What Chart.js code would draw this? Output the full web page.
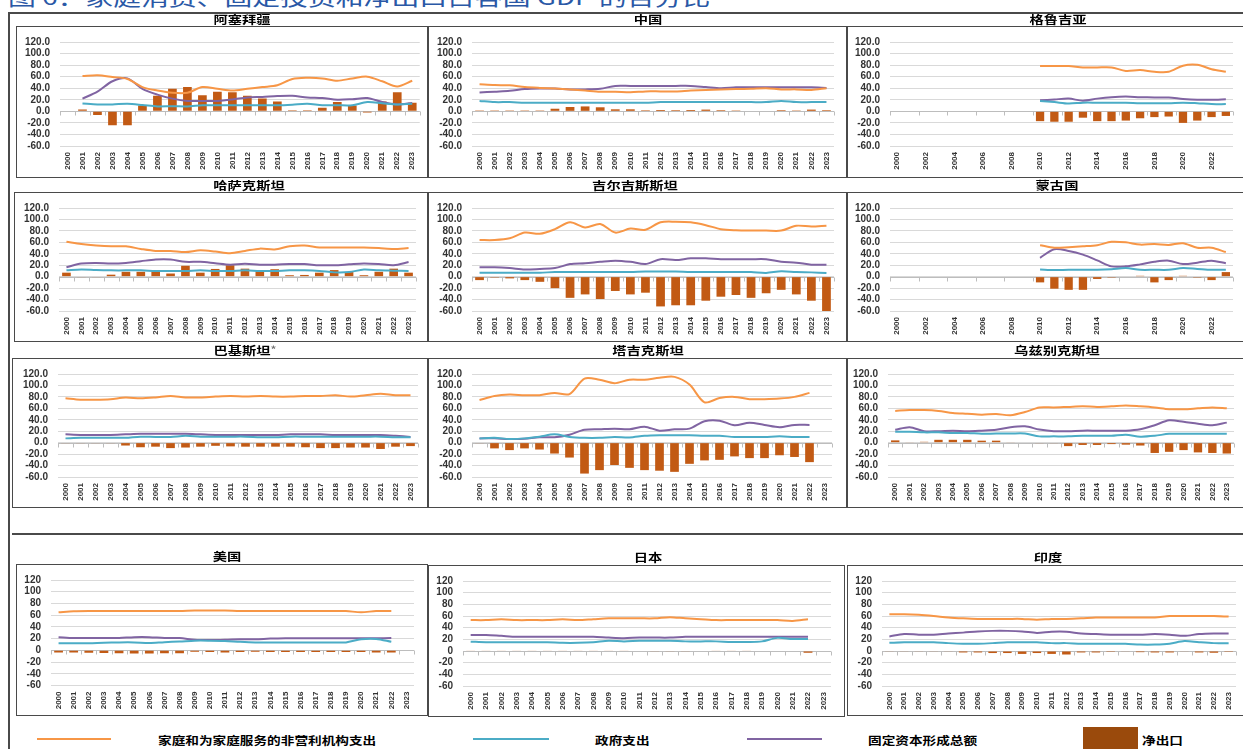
<!DOCTYPE html>
<html>
<head>
<meta charset="utf-8">
<script src="https://cdn.jsdelivr.net/npm/chart.js@4.4.0/dist/chart.umd.min.js"></script>
<style>
  body { margin: 0; background: #fff; }
  #page { position: relative; width: 1243px; height: 749px; overflow: hidden; background: #fff; font-family: "Noto Sans CJK SC", sans-serif; }
  .panel { position: absolute; }
  .panel canvas { position: absolute; left: 0; top: 0; }
  .frame { position: absolute; left: 0; top: 0; right: 0; bottom: 0; border: 1.5px solid #4a4a4a; box-sizing: border-box; }
  .ttl { position: absolute; font-weight: bold; font-size: 11px; line-height: 12px; white-space: nowrap; color: #000;
         transform: translate(-50%, -50%) scaleX(1.3); }
  .ast { color: #777; font-size: 9px; vertical-align: top; }
  .line { position: absolute; background: #4a4a4a; }
  .lg { position: absolute; height: 2px; }
  .lgt { position: absolute; font-weight: bold; font-size: 11px; line-height: 12px; white-space: nowrap; color: #000;
         transform-origin: 0 50%; transform: translateY(-50%) scaleX(1.24); }
  #head { position: absolute; left: 8px; top: -16px; font-size: 21px; line-height: 24px; color: #2a58a6; white-space: nowrap;
          transform-origin: 0 0; transform: scaleX(1.325); }
</style>
</head>
<body>
<div id="page">
  <div id="head">图 6：家庭消费、固定投资和净出口占各国 GDP 的百分比</div>
  <div class="line" style="left:8px;top:12px;width:1.5px;height:737px"></div>
  <div class="line" style="left:8px;top:12px;width:1235px;height:1.5px"></div>
  <div class="line" style="left:12px;top:533px;width:1231px;height:2px"></div>

  <div class="lg" style="left:37px;top:738px;width:74px;background:#f79646"></div>
  <div class="lgt" style="left:158px;top:740px">家庭和为家庭服务的非营利机构支出</div>
  <div class="lg" style="left:473px;top:738px;width:76px;background:#4bacc6"></div>
  <div class="lgt" style="left:595px;top:740px">政府支出</div>
  <div class="lg" style="left:747px;top:738px;width:75px;background:#8064a2"></div>
  <div class="lgt" style="left:868px;top:740px">固定资本形成总额</div>
  <div style="position:absolute;left:1083px;top:727px;width:55px;height:22px;background:#9a4a0c"></div>
  <div class="lgt" style="left:1142px;top:740px">净出口</div>
</div>
<script>
const years = ['2000','2001','2002','2003','2004','2005','2006','2007','2008','2009','2010','2011',
               '2012','2013','2014','2015','2016','2017','2018','2019','2020','2021','2022','2023'];
const yTicks = [-60, -40, -20, 0, 20, 40, 60, 80, 100, 120];

// 阿塞拜疆
const azeHH   = [null,61,62.5,59.5,56,42,36,32,32,42,39,36,39,42,45,56,58,57,53,57,60,52,43,53];
const azeGov  = [null,13.5,12,12,13,11,8.5,9,8.5,10.5,10.5,10.5,10.5,10.5,10.5,11.5,13,10.5,10.5,10.5,16,14,12,13];
const azeGfcf = [null,22,34,52,57,39,29,22,18,18,18,20.5,24,25,26.5,27,24,23,20,21,23,16,12,14.5];
const azeNx   = [null,3,-6.5,-24,-24,10,27,39,42,28,34,33,27,22,17,2,2,6,16,10,-2,17,33,15];

// 中国
const chnHH   = [47,45.5,45,42,40.5,39.5,38,36,34,34,33,34.5,34.5,34.5,36,37,38,38.5,39,40,38,38,37,40];
const chnGov  = [18,16,16,15,15,15,15,15,15,15,15,15,16,16,16,16,16,16,16,16,18,16,16,16];
const chnGfcf = [32.5,34,35.5,38.5,39.5,39.5,38,38,39,44,44,44,44,44,44,42,40,41.5,41.5,41.5,41.5,41.5,41.5,40.5];
const chnNx   = [1.5,1.5,1.5,1.5,1.5,4.5,7.5,8.5,7,3.5,3.5,1.8,2.3,2,2.3,3,2,1.5,0,0,2,1.5,3,2];

// 格鲁吉亚
const geoHH   = [null,null,null,null,null,null,null,null,null,null,78.5,78.5,78.5,76,76,76,70,71.5,68.5,68.5,79,80.5,73,68.5];
const geoGov  = [null,null,null,null,null,null,null,null,null,null,18,16,13.5,15,15,15,15,14,14,14,15,14,12.5,12.5];
const geoGfcf = [null,null,null,null,null,null,null,null,null,null,19,20.5,22,18.5,22,24.5,25.5,24.5,24,24,21.5,20,20,21];
const geoNx   = [null,null,null,null,null,null,null,null,null,null,-17,-18,-18,-11,-17,-17,-16,-12,-10,-9,-20,-16,-10,-8];

// 哈萨克斯坦
const kazHH   = [61,57,54.5,53,53,48.5,45,45,43,46,44,41,45,49,47.5,53,54.5,51,51,51,51,50,48.5,50];
const kazGov  = [11,12.5,11.5,11,11,11,10,10,10,11,10,10,11,10,10,11,11,10,7.5,8,12.5,11,10.5,10];
const kazGfcf = [16.5,23,24,23,24,27,30,30,26,26,23.5,21,22.5,21,21,22,22,20,20,21.5,23,22,20,25.5];
const kazNx   = [7,-1,-1,3.5,8.5,8.5,9,5.5,19,7,13.5,20,14,9,13,2.5,3,7,11.5,8,2.5,8.5,14,7];

// 吉尔吉斯斯坦
const kgzHH   = [64,64,67,77,75,83,95,86,92,77,84,82,95,96,95,90,83,81,80.5,80.5,80.5,89,87.5,89];
const kgzGov  = [7,7,7,7,7,8,8,8,8,8,8,9,9,9,8,8,8,8,8,6.5,9.5,8,7.5,6.5];
const kgzGfcf = [16.5,16.5,15,12.5,13.5,15,22,23.5,26,28,26,22,30.5,29,32,32,30.5,30.5,30.5,30.5,26,24.5,21,21];
const kgzNx   = [-6,-1.5,-3,-6,-9,-20,-37,-31,-39,-25,-31,-28,-52,-50,-50,-42,-35,-32,-37,-29,-23,-31,-42,-62];

// 蒙古国
const mngHH   = [null,null,null,null,null,null,null,null,null,null,55,50.5,51.5,53,55,61,60,56,57,55.5,58.5,50.5,50.5,43];
const mngGov  = [null,null,null,null,null,null,null,null,null,null,12.5,11.5,12,12,12,13,15,12,12,12,15,13.5,12,12];
const mngGfcf = [null,null,null,null,null,null,null,null,null,null,33,48,45,38.5,28.5,18,18,21.5,26,28,22,24.5,28,23.5];
const mngNx   = [null,null,null,null,null,null,null,null,null,null,-10,-21,-23,-23,-4,-1.5,0,1.5,-10,-6,1.5,-1.5,-6,8];

// 巴基斯坦
const pakHH   = [77.5,75,75,76,79,77.5,79,81.5,79,79,80.5,81.5,80.5,81.5,80.5,80.5,81.5,81.5,83,80.5,83,85.5,83,83];
const pakGov  = [7.5,8.5,8.5,8.5,8.5,10.5,10,10,12,10.5,10.5,10.5,10.5,9.5,9.5,10.5,10.5,10.5,10.5,10.5,10.5,10.5,9.5,9.5];
const pakGfcf = [14.5,13.5,13.5,13.5,14.5,15.5,15.5,15.5,15.5,14.5,13.5,13.5,13.5,13.5,13.5,14.5,14.5,14.5,13.5,13.5,13.5,13.5,12,10];
const pakNx   = [-1,-1,-1,-1,-5,-8,-7,-9.5,-8.5,-7,-5.5,-6.5,-7,-7,-7,-7,-8,-9.5,-9.5,-8.5,-8.5,-11,-7,-6];

// 塔吉克斯坦
const tjkHH   = [74.5,81.5,84,83,83,87,85,112,110,104,110,110,113.5,115,101.5,70.5,78,80,76,76,77,80,87,null];
const tjkGov  = [7.5,8.5,6.5,7.5,10.5,14.5,10,8.5,8.5,10,9,12,13,13,13,12,12,10,10,10,11,10,10,null];
const tjkGfcf = [7.5,7.5,6.5,7,9.5,9.5,14,22.5,23.5,24.5,23.5,28,21,23.5,24.5,37.5,38.5,30.5,35,31,27,31,31,null];
const tjkNx   = [-1,-10,-13,-10,-12,-19,-26,-54,-48,-39,-44,-48,-49,-51,-37,-31,-30,-24,-27,-27,-22,-25,-34,null];

// 乌兹别克斯坦
const uzbHH   = [55.5,57,57,55.5,52,50.5,49,50,48,53.5,61.5,61.5,62.5,63.5,62.5,63.5,65,63.5,61.5,58.5,58.5,60,61.5,60];
const uzbGov  = [19,19,18,18,17,17,15.5,16,16,16,11,11,11,12,12,12,14,10.5,12,15.5,15.5,15.5,15.5,15.5];
const uzbGfcf = [22.5,27,20,20,21,20,21,22.5,27,28.5,23,20,20,21,21,21,21,23.5,30.5,39,36.5,33,30.5,35];
const uzbNx   = [4,1,1.5,5,5,5,3.5,3.5,1,0,-1,-1,-6,-4,-4,-2.5,-3.5,-5,-18,-16,-13,-17,-18,-19];

// 美国
const usaHH   = [65,66.5,67,67,67,67,67,67,67,68,68,68,67,67,67,67,67,67,67,67,65,67,67,null];
const usaGov  = [12,12,12,13,13.5,13.5,12.5,14,15,16.5,16.5,16,14.5,13.5,13.5,13.5,13.5,13.5,13.5,13.5,19,19.5,14.5,null];
const usaGfcf = [22.5,21,21,21,21,22.5,22.5,21,21,18,17.5,18,19,19,20,20.5,20.5,20.5,20.5,20.5,20.5,20.5,21,null];
const usaNx   = [-3.5,-3.5,-4,-4.5,-5,-5.5,-5.5,-5,-5,-2.5,-3,-3.5,-3,-2.5,-2.8,-2.8,-2.7,-2.7,-2.8,-2.7,-2.7,-3.5,-3.8,null];

// 日本
const jpnHH   = [53,53,54.5,53,53,53,54.5,53,54.5,56,56,56,56,58,56,54.5,53,53,53,53,53,51.5,54.5,null];
const jpnGov  = [16,15,15,15,15,15,14,14,15,17.5,16.5,17.5,17.5,17.5,16.5,16.5,16.5,15.5,15.5,16.5,22.5,20.5,20.5,null];
const jpnGfcf = [27.5,27.5,26,24.5,24.5,24.5,24.5,24.5,24.5,23,22,23,23,23,24.5,24.5,24.5,24.5,24.5,24.5,24.5,24.5,24.5,null];
const jpnNx   = [1,1,1,1,1,1,1,1,1,1,1,0,-1,-1,-1,0,1,1,1,0,0,0,-3,null];

// 印度
const indHH   = [63,63,62,60,57.5,56,55,55,55,55,53.5,55,55,56,57.5,57.5,57.5,57.5,57.5,60,60,60,60,59];
const indGov  = [14,15,15,15,13.5,12.5,12.5,13.5,15,15,15,13.5,13.5,12.5,12.5,12.5,12.5,11,11,12.5,17,15,13.5,13.5];
const indGfcf = [25,29,28,28,30,31.5,33.5,34.5,34.5,33.5,31,33,33,30,29,28,28,28,29,28,26,29,30,30];
const indNx   = [-1,-1,-1,-1,-1,-2.5,-2.5,-3.5,-3.5,-5,-3.5,-5,-6,-2.5,-2.5,-1.5,-1,-2,-2.5,-2.5,-1,-2.5,-3,-1.5];

const HH_COLOR = '#f79646', GOV_COLOR = '#4bacc6', GFCF_COLOR = '#8064a2', NX_COLOR = '#c25a14';

// name, data, box position (x,y,w,h), y-axis width, right pad, top pad, plot height, title centre
const panels = [
  { name: '阿塞拜疆', d: [azeHH, azeGov, azeGfcf, azeNx], x: 16,  y: 26,  w: 412, h: 152, yW: 44, rp: 8,  tp: 10, ph: 110, tx: 242,  ty: 19 },
  { name: '中国',     d: [chnHH, chnGov, chnGfcf, chnNx], x: 428, y: 26,  w: 419, h: 152, yW: 44, rp: 13, tp: 10, ph: 110, tx: 648,  ty: 19 },
  { name: '格鲁吉亚', d: [geoHH, geoGov, geoGfcf, geoNx], x: 847, y: 26,  w: 400, h: 152, yW: 43, rp: 14, tp: 10, ph: 110, tx: 1058, ty: 19, sparse: true },
  { name: '哈萨克斯坦', d: [kazHH, kazGov, kazGfcf, kazNx], x: 14, y: 192, w: 414, h: 150, yW: 45, rp: 12, tp: 9, ph: 110, tx: 249, ty: 185 },
  { name: '吉尔吉斯斯坦', d: [kgzHH, kgzGov, kgzGfcf, kgzNx], x: 428, y: 192, w: 419, h: 150, yW: 44, rp: 13, tp: 9, ph: 110, tx: 635, ty: 185 },
  { name: '蒙古国',   d: [mngHH, mngGov, mngGfcf, mngNx], x: 847, y: 192, w: 400, h: 150, yW: 43, rp: 14, tp: 9, ph: 110, tx: 1057, ty: 185, sparse: true },
  { name: '巴基斯坦<span class="ast">*</span>', d: [pakHH, pakGov, pakGfcf, pakNx], x: 12, y: 358, w: 416, h: 150, yW: 46, rp: 10, tp: 8, ph: 111, tx: 245, ty: 350 },
  { name: '塔吉克斯坦', d: [tjkHH, tjkGov, tjkGfcf, tjkNx], x: 428, y: 358, w: 419, h: 150, yW: 44, rp: 15, tp: 8, ph: 111, tx: 648, ty: 350 },
  { name: '乌兹别克斯坦', d: [uzbHH, uzbGov, uzbGfcf, uzbNx], x: 847, y: 358, w: 400, h: 150, yW: 41, rp: 13, tp: 8, ph: 111, tx: 1057, ty: 350 },
  { name: '美国', d: [usaHH, usaGov, usaGfcf, usaNx], x: 16,  y: 564, w: 412, h: 152, yW: 35, rp: 14, tp: 9.5, ph: 112, tx: 227,  ty: 556, ints: true },
  { name: '日本', d: [jpnHH, jpnGov, jpnGfcf, jpnNx], x: 428, y: 565, w: 417, h: 152, yW: 35, rp: 14, tp: 9,   ph: 112, tx: 648,  ty: 557, ints: true },
  { name: '印度', d: [indHH, indGov, indGfcf, indNx], x: 847, y: 565, w: 400, h: 151, yW: 35, rp: 11, tp: 9,   ph: 112, tx: 1048, ty: 557, ints: true },
];

// category axis through zero with small tick marks
const zeroAxis = {
  id: 'zeroAxis',
  beforeDatasetsDraw(chart, args, opts) {
    const { ctx, chartArea: a, scales: { x, y } } = chart;
    const y0 = Math.round(y.getPixelForValue(0)) + 0.5;
    const n = x.ticks.length;
    const step = (a.right - a.left) / n;
    ctx.save();
    ctx.strokeStyle = '#bdbdbd';
    ctx.lineWidth = 1;
    ctx.beginPath();
    ctx.moveTo(a.left, y0);
    ctx.lineTo(a.right, y0);
    for (let i = 0; i <= n; i += opts.every) {
      const px = Math.round(a.left + i * step) + 0.5;
      ctx.moveTo(px, y0);
      ctx.lineTo(px, y0 + 4);
    }
    ctx.stroke();
    ctx.restore();
  }
};

function lineSet(data, color) {
  return { type: 'line', data: data, borderColor: color, borderWidth: 2, pointRadius: 0, tension: 0.3, fill: false };
}

const page = document.getElementById('page');
panels.forEach(p => {
  const box = document.createElement('div');
  box.className = 'panel';
  box.style.cssText = `left:${p.x}px;top:${p.y}px;width:${p.w}px;height:${p.h}px`;
  const canvas = document.createElement('canvas');
  canvas.width = p.w;
  canvas.height = p.h;
  canvas.style.width = p.w + 'px';
  canvas.style.height = p.h + 'px';
  box.appendChild(canvas);
  const frame = document.createElement('div');
  frame.className = 'frame';
  box.appendChild(frame);
  page.appendChild(box);

  const t = document.createElement('div');
  t.className = 'ttl';
  t.style.left = p.tx + 'px';
  t.style.top = p.ty + 'px';
  t.innerHTML = p.name;
  page.appendChild(t);

  new Chart(canvas.getContext('2d'), {
    data: {
      labels: years,
      datasets: [
        lineSet(p.d[0], HH_COLOR),
        lineSet(p.d[1], GOV_COLOR),
        lineSet(p.d[2], GFCF_COLOR),
        { type: 'bar', data: p.d[3], backgroundColor: NX_COLOR, barPercentage: 0.58, categoryPercentage: 1 }
      ]
    },
    options: {
      responsive: false,
      animation: false,
      layout: { padding: { top: p.tp, right: p.rp, left: 0, bottom: 0 } },
      plugins: { legend: { display: false }, tooltip: { enabled: false }, zeroAxis: { every: p.sparse ? 2 : 1 } },
      scales: {
        x: {
          grid: { display: false, drawTicks: false },
          border: { display: false },
          ticks: {
            autoSkip: false, minRotation: 90, maxRotation: 90, padding: 6, color: '#333',
            font: { family: 'Liberation Sans', size: 8, weight: 'bold' },
            callback: (v, i) => (p.sparse && i % 2) ? '' : years[i]
          },
          afterFit: s => { s.height = p.h - p.tp - p.ph; }
        },
        y: {
          min: -60, max: 120,
          grid: { color: '#d9d9d9', drawTicks: false },
          border: { display: false },
          ticks: {
            autoSkip: false, padding: 10, color: '#333',
            font: { family: 'Liberation Sans', size: 10, weight: 'bold' },
            callback: v => p.ints ? String(v) : v.toFixed(1)
          },
          afterBuildTicks: s => { s.ticks = yTicks.map(v => ({ value: v })); },
          afterFit: s => { s.width = p.yW; }
        }
      }
    },
    plugins: [zeroAxis]
  });
});
</script>
</body>
</html>
